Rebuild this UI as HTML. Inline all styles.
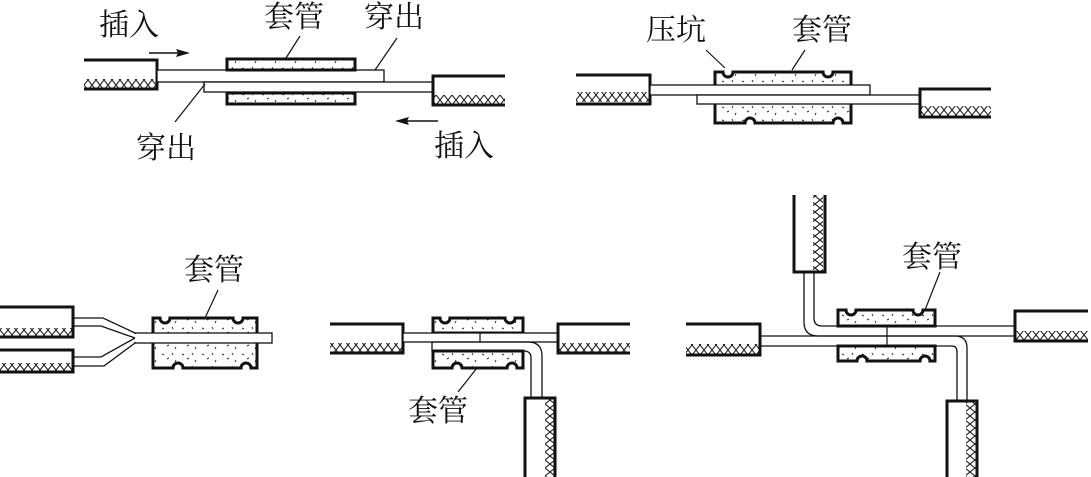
<!DOCTYPE html>
<html><head><meta charset="utf-8"><style>
html,body{margin:0;padding:0;background:#fff;}
svg{display:block;}
text{font-family:"Liberation Serif","Noto Serif CJK SC","Noto Sans CJK SC",serif;font-size:30px;fill:#111;}
</style></head><body>
<svg width="1091" height="477" viewBox="0 0 1091 477" xmlns="http://www.w3.org/2000/svg">
<defs>
<pattern id="xh" width="8" height="10" patternUnits="userSpaceOnUse">
<path d="M0 0 L8 10 M8 0 L0 10" stroke="#222" stroke-width="1.1" fill="none"/>
</pattern>
<pattern id="xv" width="10" height="8" patternUnits="userSpaceOnUse">
<path d="M0 0 L10 8 M10 0 L0 8" stroke="#222" stroke-width="1.1" fill="none"/>
</pattern>
<pattern id="sp" width="20" height="13" patternUnits="userSpaceOnUse">
<path d="M2 3 l2 1 M12 2 l1 2 M7 8 l2 -1 M16 9 l-1 2" stroke="#333" stroke-width="1" fill="none"/>
</pattern>
</defs>
<g fill="none" stroke="#111">

<rect x="84" y="79" width="72" height="9" fill="url(#xh)" stroke="none"/>
<path d="M84 60 H157 V89 H84" stroke-width="3"/>
<rect x="157" y="70" width="227" height="12" fill="#fff" stroke-width="1.3"/>
<rect x="204" y="82" width="229" height="10" fill="#fff" stroke-width="1.3"/>
<rect x="434" y="95" width="71" height="9" fill="url(#xh)" stroke="none"/>
<path d="M505 76 H433 V105 H505" stroke-width="3"/>
<rect x="227" y="59" width="128" height="11" fill="url(#sp)" stroke-width="3"/>
<rect x="227" y="93" width="128" height="11" fill="url(#sp)" stroke-width="3"/>
<path d="M149 53 H182" stroke-width="1.5"/>
<path d="M190 53 L176 49 L178 53 L176 57 Z" fill="#111" stroke="none"/>
<path d="M405 121 H438" stroke-width="1.5"/>
<path d="M395 121 L409 117 L407 121 L409 125 Z" fill="#111" stroke="none"/>
<path d="M300 36 L286 58" stroke-width="1.2"/>
<path d="M397 38 L375 70" stroke-width="1.2"/>
<path d="M205 84 L175 122" stroke-width="1.2"/>

<rect x="576" y="92" width="73" height="10" fill="url(#xh)" stroke="none"/>
<path d="M576 75 H650 V104 H576" stroke-width="3"/>
<path d="M715 72 H723 A5 5 0 0 0 733 72 H823 A5 5 0 0 0 833 72 H851 V123 H843 A5 5 0 0 0 833 123 H755 A5 5 0 0 0 745 123 H715 Z" fill="url(#sp)" stroke-width="3"/>
<rect x="650" y="85" width="220" height="10" fill="#fff" stroke-width="1.3"/>
<rect x="697" y="95" width="223" height="9" fill="#fff" stroke-width="1.3"/>
<rect x="921" y="106" width="70" height="10" fill="url(#xh)" stroke="none"/>
<path d="M991 89 H920 V117 H991" stroke-width="3"/>
<path d="M706 50 L725 68" stroke-width="1.2"/>
<path d="M805 50 L792 70" stroke-width="1.2"/>

<rect x="0" y="328" width="72" height="8" fill="url(#xh)" stroke="none"/>
<path d="M0 307 H73 V337 H0" stroke-width="3"/>
<rect x="0" y="363" width="72" height="8" fill="url(#xh)" stroke="none"/>
<path d="M0 350 H73 V372 H0" stroke-width="3"/>
<path d="M153 318 H160 A5 5 0 0 0 170 318 H233 A5 5 0 0 0 243 318 H257 V368 H251 A5 5 0 0 0 241 368 H183 A5 5 0 0 0 173 368 H153 Z" fill="url(#sp)" stroke-width="3"/>
<rect x="135" y="333" width="137" height="10" fill="#fff" stroke-width="1.3"/>
<rect x="134" y="334" width="3" height="8" fill="#fff" stroke="none"/>
<path d="M73 318 H103 L135 333 M73 326 H101 L135 338 M73 357 H101 L135 338 M73 366 H104 L135 343" stroke-width="1.3"/>
<path d="M218 290 L205 318" stroke-width="1.2"/>

<rect x="330" y="343" width="72" height="9" fill="url(#xh)" stroke="none"/>
<path d="M330 324 H403 V353 H330" stroke-width="3"/>
<path d="M433 318 H440 A5 5 0 0 0 450 318 H505 A5 5 0 0 0 515 318 H523 V333 H433 Z" fill="url(#sp)" stroke-width="3"/>
<path d="M433 351 H523 V368 H517 A5 5 0 0 0 507 368 H462 A5 5 0 0 0 452 368 H433 Z" fill="url(#sp)" stroke-width="3"/>
<rect x="403" y="333" width="155" height="9" fill="#fff" stroke-width="1.3"/>
<path d="M432 342 V351 M433 351 H524 Q531 351 531 358 V398 M432 342 H528 Q542 342 542 356 V398" stroke-width="1.3"/>
<path d="M480 333 V342" stroke-width="1.2"/>
<rect x="559" y="343" width="71" height="9" fill="url(#xh)" stroke="none"/>
<path d="M630 324 H558 V353 H630" stroke-width="3"/>
<rect x="545" y="399" width="9" height="78" fill="url(#xv)" stroke="none"/>
<path d="M525 477 V398 H555 V477" stroke-width="3"/>
<path d="M477 368 L458 392" stroke-width="1.2"/>

<rect x="813" y="195" width="10" height="76" fill="url(#xv)" stroke="none"/>
<path d="M794 195 V272 H825 V195" stroke-width="3"/>
<path d="M838 310 H846 A5 5 0 0 0 856 310 H913 A5 5 0 0 0 923 310 H935 V326 H838 Z" fill="url(#sp)" stroke-width="3"/>
<path d="M838 346 H935 V361 H930 A5 5 0 0 0 920 361 H867 A5 5 0 0 0 857 361 H838 Z" fill="url(#sp)" stroke-width="3"/>
<path d="M804 272 V322 Q804 336 818 336 H1015 M814 272 V318 Q814 326 822 326 H1015" stroke-width="1.3"/>
<path d="M760 336 H818 M760 346 H952 Q957 346 957 352 V401 M818 336 H955 Q967 336 967 348 V401" stroke-width="1.3"/>
<path d="M887 326 V345" stroke-width="1.2"/>
<rect x="686" y="344" width="73" height="10" fill="url(#xh)" stroke="none"/>
<path d="M686 324 H760 V355 H686" stroke-width="3"/>
<rect x="1016" y="331" width="72" height="9" fill="url(#xh)" stroke="none"/>
<path d="M1088 311 H1015 V341 H1088" stroke-width="3"/>
<rect x="966" y="402" width="10" height="75" fill="url(#xv)" stroke="none"/>
<path d="M947 477 V401 H977 V477" stroke-width="3"/>
<path d="M940 272 L925 310" stroke-width="1.2"/>
</g>

<text x="99" y="35">插入</text>
<text x="264" y="27">套管</text>
<text x="364" y="27">穿出</text>
<text x="136" y="158">穿出</text>
<text x="434" y="156">插入</text>
<text x="646" y="40">压坑</text>
<text x="792" y="40">套管</text>
<text x="184" y="280">套管</text>
<text x="408" y="421">套管</text>
<text x="902" y="267">套管</text>
</svg>
</body></html>
